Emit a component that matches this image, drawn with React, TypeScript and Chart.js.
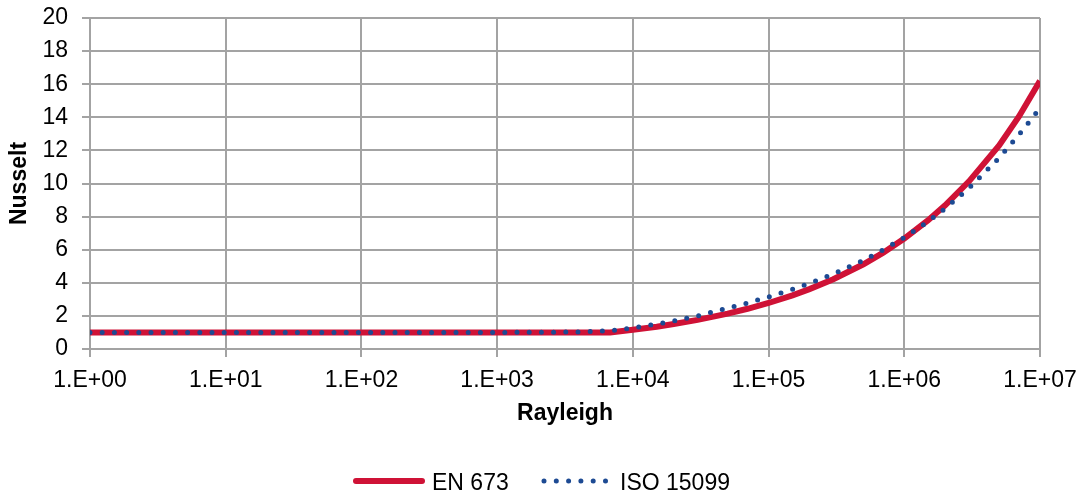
import { useEffect, useRef } from "react";
import { Chart, registerables } from "chart.js";

Chart.register(...registerables);

const FONT = "'Liberation Sans', Arial, Helvetica, sans-serif";

// Decade tick values and their labels on the Rayleigh axis
const xTickValues = [1, 10, 100, 1e3, 1e4, 1e5, 1e6, 1e7];
const xTickLabels = ["1.E+00", "1.E+01", "1.E+02", "1.E+03", "1.E+04", "1.E+05", "1.E+06", "1.E+07"];

// EN 673 series
const enRa = [1, 10, 100, 1000, 6800, 1e4, 1.5e4, 2e4, 3e4, 5e4, 7e4, 1e5, 1.5e5, 2e5, 3e5, 5e5, 7e5, 1e6, 1.5e6, 2e6, 3e6, 5e6, 7e6, 1e7];
const enNu = [1, 1, 1, 1, 1, 1.16, 1.35, 1.51, 1.76, 2.14, 2.43, 2.78, 3.24, 3.62, 4.22, 5.12, 5.82, 6.67, 7.78, 8.68, 10.13, 12.3, 14.05, 16.2];

// ISO 15099 series
const isoRa = [1, 10, 100, 1000, 2000, 3000, 4000, 5000, 7000, 1e4, 1.5e4, 2e4, 3e4, 5e4, 7e4, 1e5, 1.5e5, 2e5, 3e5, 5e5, 7e5, 1e6, 1.5e6, 2e6, 3e6, 5e6, 7e6, 1e7];
const isoNu = [1, 1, 1, 1, 1.01, 1.02, 1.03, 1.06, 1.12, 1.27, 1.5, 1.69, 2.0, 2.47, 2.78, 3.15, 3.6, 3.96, 4.53, 5.36, 5.99, 6.74, 7.71, 8.49, 9.72, 11.55, 12.95, 14.55];

const seriesNames = ["EN 673", "ISO 15099"];
const RED = "#CF1236";
const BLUE = "#1D4A93";
const GRID = "#A3A3A3";

export default function App() {
  const ref = useRef<HTMLCanvasElement>(null);

  useEffect(() => {
    if (!ref.current) return;

    const legendPlugin = {
      id: "customLegend",
      afterDraw(chart: any) {
        const ctx = chart.ctx as CanvasRenderingContext2D;
        ctx.save();
        const y = 481;
        // EN 673
        ctx.strokeStyle = RED;
        ctx.lineWidth = 6;
        ctx.lineCap = "round";
        ctx.setLineDash([]);
        ctx.beginPath();
        ctx.moveTo(356, y);
        ctx.lineTo(422, y);
        ctx.stroke();
        // ISO 15099
        ctx.strokeStyle = BLUE;
        ctx.lineWidth = 5;
        ctx.setLineDash([0, 12.3]);
        ctx.beginPath();
        ctx.moveTo(544, y);
        ctx.lineTo(607, y);
        ctx.stroke();
        ctx.setLineDash([]);
        ctx.fillStyle = "#000";
        ctx.font = `23px ${FONT}`;
        ctx.textBaseline = "alphabetic";
        ctx.textAlign = "left";
        ctx.fillText(seriesNames[0], 432, 489.5);
        ctx.fillText(seriesNames[1], 620, 489.5);
        ctx.restore();
      },
    };

    const chart = new Chart(ref.current, {
      type: "line",
      data: {
        datasets: [
          {
            label: seriesNames[0],
            data: enRa.map((x, i) => ({ x, y: enNu[i] })),
            borderColor: RED,
            backgroundColor: RED,
            borderWidth: 6,
            pointRadius: 0,
            tension: 0,
            order: 2,
          },
          {
            label: seriesNames[1],
            data: isoRa.map((x, i) => ({ x, y: isoNu[i] })),
            borderColor: BLUE,
            backgroundColor: BLUE,
            borderWidth: 5,
            borderDash: [0, 12.2],
            borderCapStyle: "round",
            pointRadius: 0,
            tension: 0,
            order: 1,
          },
        ],
      },
      options: {
        responsive: false,
        animation: false,
        devicePixelRatio: 1,
        layout: { padding: { top: 18, right: 44, left: 0, bottom: 60 } },
        plugins: {
          legend: { display: false },
          tooltip: { enabled: false },
        },
        scales: {
          x: {
            type: "logarithmic",
            min: 1,
            max: 1e7,
            afterBuildTicks: (scale: any) => {
              scale.ticks = xTickValues.map((v) => ({ value: v }));
            },
            afterFit: (scale: any) => {
              scale.height = 86;
              scale.paddingLeft = 0;
              scale.paddingRight = 0;
            },
            ticks: {
              autoSkip: false,
              maxRotation: 0,
              padding: 10,
              color: "#000",
              font: { family: FONT, size: 23 },
              callback: (v: any) => {
                const idx = xTickValues.indexOf(Number(v));
                return idx >= 0 ? xTickLabels[idx] : "";
              },
            },
            grid: { color: GRID, lineWidth: 2, tickLength: 8, drawTicks: true },
            border: { color: GRID, width: 2 },
            title: {
              display: true,
              text: "Rayleigh",
              color: "#000",
              font: { family: FONT, size: 23, weight: "bold" },
              padding: { top: 0, bottom: 8 },
            },
          },
          y: {
            min: 0,
            max: 20,
            afterFit: (scale: any) => {
              scale.width = 90;
              scale.paddingTop = 0;
              scale.paddingBottom = 0;
            },
            ticks: {
              stepSize: 2,
              padding: 14,
              color: "#000",
              font: { family: FONT, size: 23 },
            },
            grid: { color: GRID, lineWidth: 2, tickLength: 8, drawTicks: true },
            border: { color: GRID, width: 2 },
            title: {
              display: true,
              text: "Nusselt",
              color: "#000",
              font: { family: FONT, size: 23, weight: "bold" },
              padding: { top: 6, bottom: 0 },
            },
          },
        },
      },
      plugins: [legendPlugin],
    } as any);

    return () => chart.destroy();
  }, []);

  return (
    <div style={{ position: "absolute", left: 0, top: 0, width: 1084, height: 495, background: "#fff" }}>
      <canvas ref={ref} width={1084} height={495} />
    </div>
  );
}
